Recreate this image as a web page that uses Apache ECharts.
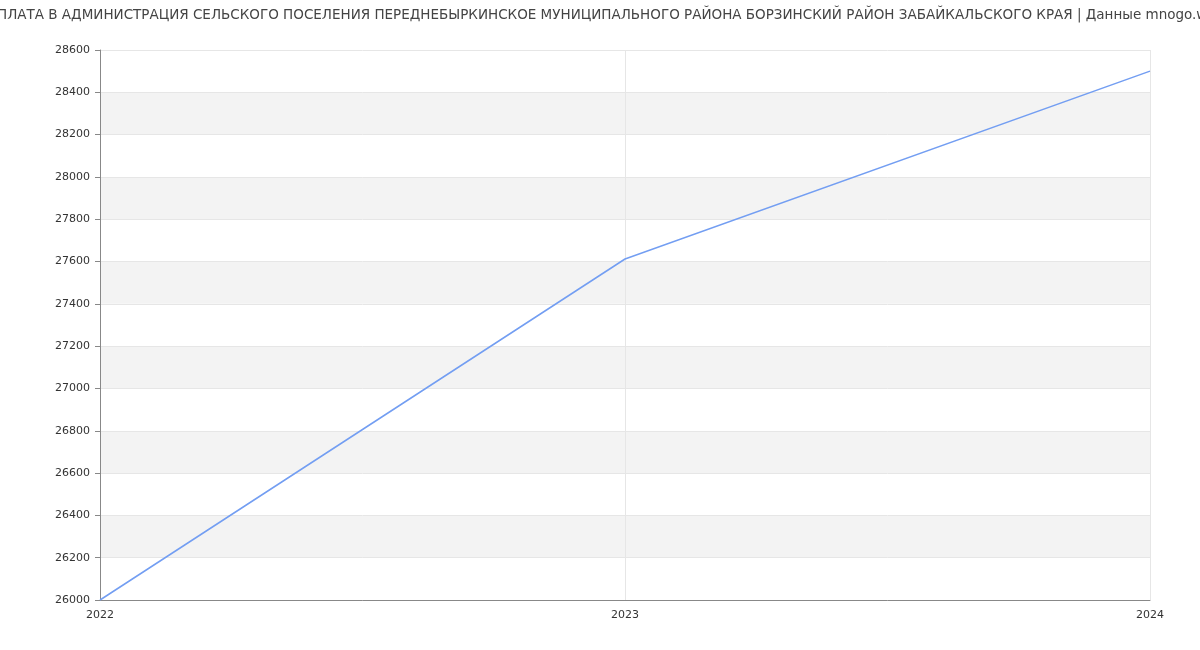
<!DOCTYPE html>
<html><head><meta charset="utf-8">
<script src="https://cdn.jsdelivr.net/npm/echarts@6/dist/echarts.min.js"></script>
<style>html,body{margin:0;padding:0;background:#fff}#c{width:1200px;height:650px}</style>
</head><body><div id="c"></div>
<script>
const titleText = 'ЗАРПЛАТА В АДМИНИСТРАЦИЯ СЕЛЬСКОГО ПОСЕЛЕНИЯ ПЕРЕДНЕБЫРКИНСКОЕ МУНИЦИПАЛЬНОГО РАЙОНА БОРЗИНСКИЙ РАЙОН ЗАБАЙКАЛЬСКОГО КРАЯ | Данные mnogo.work';
const years = ['2022', '2023', '2024'];
const salary = [26000, 27612, 28500];

const chart = echarts.init(document.getElementById('c'));
chart.setOption({
  animation: false,
  textStyle: { fontFamily: 'DejaVu Sans' },
  title: {
    text: titleText, left: 'center', top: 3,
    textStyle: { fontSize: 13.5, fontWeight: 'normal', color: '#444', fontFamily: 'DejaVu Sans' }
  },
  grid: { left: 100, right: 50, top: 50, bottom: 50 },
  xAxis: {
    type: 'category', data: years, boundaryGap: false,
    axisLine: { lineStyle: { color: '#888' } },
    axisTick: { show: false },
    axisLabel: { color: '#333', fontSize: 11, margin: 10 },
    splitLine: { show: true, lineStyle: { color: '#e6e6e6' } }
  },
  yAxis: {
    type: 'value', min: 26000, max: 28600, interval: 200,
    axisLine: { show: true, lineStyle: { color: '#888' } },
    axisTick: { show: true, length: 5, lineStyle: { color: '#888' } },
    axisLabel: { color: '#333', fontSize: 11, margin: 10, formatter: v => String(v) },
    splitLine: { show: true, lineStyle: { color: '#e6e6e6' } },
    splitArea: { show: true, areaStyle: { color: ['#ffffff', '#f3f3f3'] } }
  },
  series: [{
    type: 'line', data: salary, showSymbol: false, symbol: 'none',
    lineStyle: { color: '#739ef2', width: 1.5 }
  }]
});
</script></body></html>
